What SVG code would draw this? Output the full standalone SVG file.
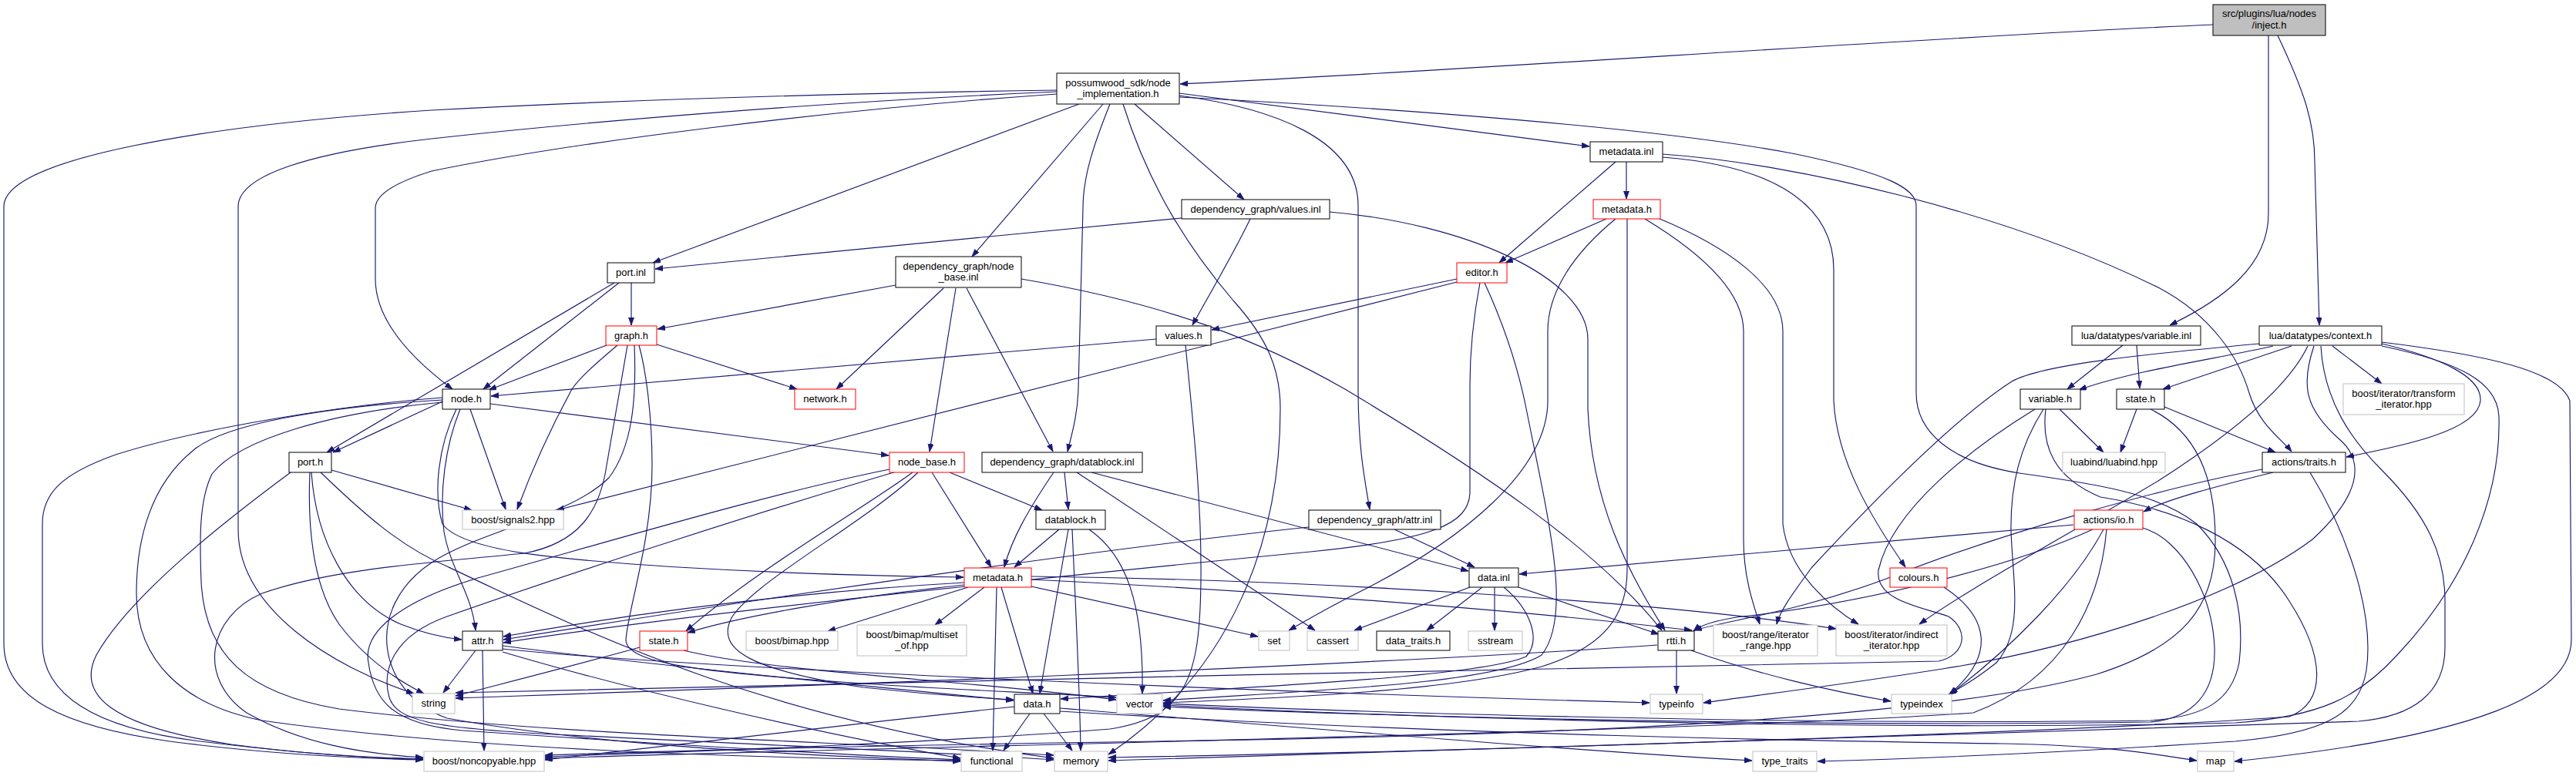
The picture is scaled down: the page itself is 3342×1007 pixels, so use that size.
<svg xmlns="http://www.w3.org/2000/svg" width="3342" height="1007" viewBox="0 0 3342 1007">
<defs>
<style>
.e{fill:none;stroke:#191970;stroke-width:1.15;marker-end:url(#ah)}
.node rect{fill:#ffffff;stroke-width:1}
.blk rect{stroke:#000000}
.red rect{stroke:#ff0000}
.gry rect{stroke:#bfbfbf}
.root rect{fill:#bfbfbf;stroke:#000000}
text{font-family:"Liberation Sans",Arial,Helvetica,sans-serif;font-size:13px;fill:#000000;text-anchor:middle}
</style>
<marker id="ah" markerWidth="11" markerHeight="8" refX="10" refY="3.5" orient="auto" markerUnits="userSpaceOnUse"><path d="M0,0 L10,3.5 L0,7 z" fill="#191970" stroke="#191970" stroke-width="0.8"/></marker>
</defs>
<rect x="0" y="0" width="3342" height="1007" fill="#ffffff"/>
<g id="edges">
<path class="e" d="M2871,32 C2500,48 1900,92 1531,109"/>
<path class="e" d="M2943,46 L2943,277 C2943,345 2885,388 2815,422"/>
<path class="e" d="M2955,46 C2990,120 3003,160 3003,210 L3009,422"/>
<path class="e" d="M1371,117 C1100,121 800,130 560,143 C270,162 5,205 5,268 L5,835 C5,905 80,942 220,962 C350,979 460,984 549,986"/>
<path class="e" d="M1371,119 C1070,132 760,158 560,180 C400,198 309,228 309,268 L309,687 C309,790 430,865 537,900"/>
<path class="e" d="M1371,122 C1070,143 740,185 560,222 C515,236 487,252 487,270 L487,362 C487,420 540,470 587,505"/>
<path class="e" d="M1400,135 L847,341"/>
<path class="e" d="M1431,135 L1261,333"/>
<path class="e" d="M1440,135 C1418,190 1405,230 1405,270 L1399,504 C1398,540 1390,565 1385,586"/>
<path class="e" d="M1457,135 C1490,240 1540,320 1600,390 C1645,440 1661,480 1661,530 C1661,700 1600,870 1438,979"/>
<path class="e" d="M1472,135 L1614,259"/>
<path class="e" d="M1530,121 L2062,190"/>
<path class="e" d="M1530,124 C1650,140 1762,180 1762,267 L1762,504 C1762,580 1770,620 1777,661"/>
<path class="e" d="M1530,126 C1800,140 2150,165 2330,200 C2450,225 2486,245 2486,267 L2486,510 C2486,560 2530,600 2620,614 C2720,628 2800,640 2850,680 C2900,730 2912,800 2905,860 C2895,910 2860,930 2790,935 C2300,942 1700,922 1509,913"/>
<path class="e" d="M2110,210 L2110,258"/>
<path class="e" d="M2096,210 L1945,341"/>
<path class="e" d="M2157,200 C2330,212 2600,275 2800,373 C2870,410 2905,465 2918,510 C2930,550 2960,570 2973,586"/>
<path class="e" d="M2157,204 C2300,215 2379,265 2379,350 L2379,520 C2383,600 2430,675 2472,736"/>
<path class="e" d="M2084,284 L1953,341"/>
<path class="e" d="M2096,284 C2040,330 2008,380 2008,430 L2008,520 C2008,610 1900,700 1760,770 C1720,790 1695,805 1672,818"/>
<path class="e" d="M2111,284 L2111,740 C2111,800 2080,840 2000,865 C1880,898 1650,906 1509,912"/>
<path class="e" d="M2134,284 C2210,330 2262,380 2262,430 L2262,700 C2262,750 2275,785 2283,810"/>
<path class="e" d="M2151,283 C2240,320 2313,370 2313,430 L2313,680 C2320,740 2370,785 2411,810"/>
<path class="e" d="M1533,283 C1300,305 1000,335 850,349"/>
<path class="e" d="M1622,284 C1600,330 1570,380 1547,422"/>
<path class="e" d="M1725,275 C1900,290 2060,360 2060,440 L2060,530 C2065,650 2110,740 2160,818"/>
<path class="e" d="M1162,370 L853,427"/>
<path class="e" d="M1224,374 L1085,505"/>
<path class="e" d="M1240,374 L1206,586"/>
<path class="e" d="M1254,374 L1366,586"/>
<path class="e" d="M1325,362 C1520,395 1640,445 1745,505 C1920,610 2070,710 2156,818"/>
<path class="e" d="M819,367 L819,422"/>
<path class="e" d="M803,367 L627,505"/>
<path class="e" d="M797,367 L424,587"/>
<path class="e" d="M787,448 L634,506"/>
<path class="e" d="M801,448 C775,470 752,490 742,505 C712,560 690,610 671,661"/>
<path class="e" d="M852,447 L1034,505"/>
<path class="e" d="M814,448 C805,500 795,560 787,604 C778,665 750,705 680,718 C560,730 430,738 340,770 C270,800 255,880 320,925 C390,965 470,978 549,983"/>
<path class="e" d="M823,448 C826,520 820,580 790,620 C740,670 620,690 560,730 C470,790 490,900 580,932 C800,972 1100,982 1246,988"/>
<path class="e" d="M829,448 C838,480 846,540 846,604 C846,700 815,790 812,830 C812,860 900,872 1120,887 C1250,896 1330,898 1448,905"/>
<path class="e" d="M574,521 L432,587"/>
<path class="e" d="M610,531 L656,661"/>
<path class="e" d="M597,531 C577,580 570,640 576,690 C585,740 612,770 617,818"/>
<path class="e" d="M636,524 L1153,591"/>
<path class="e" d="M592,531 C568,580 562,640 574,680 C600,715 720,726 880,736 C1030,745 1170,748 1250,749"/>
<path class="e" d="M574,516 C450,525 260,555 150,590 C80,615 55,640 55,680 L55,835 C55,900 120,945 260,962 C390,978 470,983 549,985"/>
<path class="e" d="M574,519 C420,528 290,550 250,585 C195,630 177,700 177,770 C177,860 240,915 340,935 C620,975 1000,984 1246,987"/>
<path class="e" d="M574,522 C430,535 310,570 275,615 C258,650 259,700 261,755 C266,850 320,900 440,920 C720,955 1100,962 1367,980"/>
<path class="e" d="M430,610 L612,662"/>
<path class="e" d="M402,613 C399,680 405,760 440,810 C470,850 510,880 550,900"/>
<path class="e" d="M404,613 C410,700 450,780 520,810 C555,824 580,828 599,830"/>
<path class="e" d="M377,613 C300,670 170,770 125,850 C100,900 140,942 300,966 C400,979 480,984 549,985"/>
<path class="e" d="M416,613 C470,665 520,710 580,735 C780,830 1000,935 1367,984"/>
<path class="e" d="M617,844 L575,899"/>
<path class="e" d="M626,844 L628,974"/>
<path class="e" d="M652,838 C820,860 1120,890 1315,909"/>
<path class="e" d="M652,842 C900,868 1700,900 2140,912"/>
<path class="e" d="M652,846 C800,890 1050,950 1246,984"/>
<path class="e" d="M830,840 C740,865 660,885 591,903"/>
<path class="e" d="M887,844 C1000,872 1250,882 1448,908"/>
<path class="e" d="M1184,613 C1120,660 980,740 890,819"/>
<path class="e" d="M1154,609 C1000,640 800,700 620,750 C520,780 470,820 478,860 C485,910 510,940 600,948 C850,965 1100,980 1246,986"/>
<path class="e" d="M1163,612 C1000,660 750,740 580,800 C510,825 495,870 505,905 C515,935 560,944 700,952 C950,965 1200,975 1367,986"/>
<path class="e" d="M1191,613 C1120,680 985,750 950,800 C925,845 980,870 1120,892 C1220,903 1280,906 1315,908"/>
<path class="e" d="M1232,613 L1352,662"/>
<path class="e" d="M1209,613 L1286,736"/>
<path class="e" d="M1367,613 C1335,660 1312,700 1303,736"/>
<path class="e" d="M1381,613 L1386,661"/>
<path class="e" d="M1416,613 L1905,741"/>
<path class="e" d="M1397,613 L1706,818"/>
<path class="e" d="M1374,687 L1316,736"/>
<path class="e" d="M1386,687 L1349,900"/>
<path class="e" d="M1391,687 C1396,800 1401,900 1402,974"/>
<path class="e" d="M1413,687 C1460,720 1484,780 1482,900"/>
<path class="e" d="M1251,756 C1000,770 800,800 653,826"/>
<path class="e" d="M1698,684 C1400,715 900,790 653,830"/>
<path class="e" d="M1920,367 C1910,420 1907,460 1907,500 L1907,640 C1905,680 1860,700 1700,716 C1400,745 900,795 653,834"/>
<path class="e" d="M1251,759 C1100,775 960,800 892,821"/>
<path class="e" d="M1256,762 L1074,819"/>
<path class="e" d="M1277,762 L1213,811"/>
<path class="e" d="M1293,762 L1288,974"/>
<path class="e" d="M1299,762 L1340,900"/>
<path class="e" d="M1338,761 L1632,826"/>
<path class="e" d="M1338,748 C1700,752 2150,780 2382,816"/>
<path class="e" d="M1338,752 C1700,770 2000,795 2195,818"/>
<path class="e" d="M1907,762 L1757,818"/>
<path class="e" d="M1923,762 L1851,818"/>
<path class="e" d="M1939,762 L1939,818"/>
<path class="e" d="M1970,762 L2152,823"/>
<path class="e" d="M1951,762 C1985,790 2000,830 1980,852 C1920,878 1650,890 1376,907"/>
<path class="e" d="M1809,687 L1913,736"/>
<path class="e" d="M2175,844 L2175,900"/>
<path class="e" d="M2150,837 C1700,868 900,895 591,906"/>
<path class="e" d="M2194,844 C2280,875 2380,898 2453,910"/>
<path class="e" d="M1500,440 L637,514"/>
<path class="e" d="M1538,448 C1548,550 1559,650 1558,750 C1557,880 1540,930 1440,946 C1200,965 900,975 707,982"/>
<path class="e" d="M1890,362 L1572,428"/>
<path class="e" d="M1890,366 L722,662"/>
<path class="e" d="M1926,367 C1955,430 1970,480 1980,530 C2010,680 2040,800 2000,850 C1940,888 1700,896 1509,909"/>
<path class="e" d="M2754,448 L2682,505"/>
<path class="e" d="M2772,448 L2776,504"/>
<path class="e" d="M2949,449 C2880,465 2770,480 2697,506"/>
<path class="e" d="M2973,449 L2806,505"/>
<path class="e" d="M2931,446 C2800,458 2650,472 2610,495 C2540,540 2440,640 2350,737 C2330,765 2310,790 2305,810"/>
<path class="e" d="M2994,449 C2970,500 2900,560 2800,624 C2690,690 2560,760 2490,810"/>
<path class="e" d="M3002,449 C2985,500 2990,530 3035,570 C3070,600 3060,645 3000,700 C2900,775 2700,840 2520,868 C2380,890 2280,902 2210,912"/>
<path class="e" d="M3011,449 C3015,520 3050,570 3090,610 C3150,670 3172,720 3172,780 L3172,840 C3172,900 3130,930 3060,936 C2500,955 1800,975 1438,987"/>
<path class="e" d="M3090,449 C3190,470 3240,495 3242,540 C3245,650 3195,760 3110,850 C3060,905 3010,930 2900,938 C2400,950 1800,930 1509,915"/>
<path class="e" d="M3026,449 L3090,498"/>
<path class="e" d="M3090,446 C3170,465 3220,490 3218,520 C3215,560 3110,580 3044,593"/>
<path class="e" d="M3090,444 C3220,460 3320,480 3334,520 L3336,830 C3336,900 3220,955 2899,988"/>
<path class="e" d="M2672,531 L2729,587"/>
<path class="e" d="M2772,531 L2751,587"/>
<path class="e" d="M2808,528 L2952,587"/>
<path class="e" d="M2790,531 C2850,560 2874,620 2874,700 C2875,790 2830,840 2720,875 C2500,935 2000,955 1500,962 C1100,968 850,975 707,980"/>
<path class="e" d="M2640,531 C2560,580 2455,660 2437,740 C2432,780 2495,788 2528,800 C2555,818 2550,850 2515,858 C2000,870 1000,885 591,899"/>
<path class="e" d="M2651,531 C2620,580 2608,630 2609,690 C2612,760 2625,820 2590,860 C2565,880 2545,892 2528,901"/>
<path class="e" d="M2654,531 C2648,580 2665,620 2725,645 C2820,660 2920,700 2970,780 C3015,850 3020,910 2970,930 C2700,950 1900,975 1438,983"/>
<path class="e" d="M2690,681 L1971,745"/>
<path class="e" d="M2715,687 C2600,740 2400,785 2260,800 C2225,805 2205,812 2197,819"/>
<path class="e" d="M2729,687 C2690,760 2610,840 2530,901"/>
<path class="e" d="M2733,687 C2725,780 2680,880 2560,925 C2200,950 1200,968 707,984"/>
<path class="e" d="M2780,685 C2830,700 2870,770 2873,840 C2875,900 2845,932 2790,937 C2300,945 1700,926 1509,917"/>
<path class="e" d="M2949,613 C2880,630 2810,648 2781,664"/>
<path class="e" d="M2935,609 C2820,630 2600,690 2450,750 C2330,795 2240,805 2198,818"/>
<path class="e" d="M2997,613 C3050,700 3080,800 3070,870 C3060,930 3010,952 2900,962 C2700,975 2500,984 2358,988"/>
<path class="e" d="M2522,762 C2580,800 2590,850 2529,901"/>
<path class="e" d="M1336,926 L1302,974"/>
<path class="e" d="M1354,926 L1391,974"/>
<path class="e" d="M1316,917 C1100,940 850,970 707,986"/>
<path class="e" d="M1375,919 C1700,945 2050,975 2273,987"/>
<path class="e" d="M1375,923 C1900,955 2400,962 2600,965 C2750,968 2800,980 2850,987"/>
</g>
<g id="n_inject" class="node root"><rect x="2871" y="6" width="146" height="40"/><text x="2944" y="22">src/plugins/lua/nodes</text><text x="2944" y="37">/inject.h</text></g>
<g id="n_ni" class="node blk"><rect x="1371" y="95" width="159" height="40"/><text x="1450.5" y="112">possumwood_sdk/node</text><text x="1450.5" y="126">_implementation.h</text></g>
<g id="n_metadata_inl" class="node blk"><rect x="2063" y="184" width="94" height="26"/><text x="2110" y="201">metadata.inl</text></g>
<g id="n_values_inl" class="node blk"><rect x="1533" y="259" width="192" height="25"/><text x="1629" y="276">dependency_graph/values.inl</text></g>
<g id="n_metadata_h_sdk" class="node red"><rect x="2067" y="259" width="87" height="25"/><text x="2110.5" y="276">metadata.h</text></g>
<g id="n_port_inl" class="node blk"><rect x="788" y="341" width="61" height="26"/><text x="818.5" y="358">port.inl</text></g>
<g id="n_node_base_inl" class="node blk"><rect x="1162" y="333" width="163" height="40"/><text x="1243.5" y="350">dependency_graph/node</text><text x="1243.5" y="364">_base.inl</text></g>
<g id="n_editor_h" class="node red"><rect x="1890" y="341" width="65" height="26"/><text x="1922.5" y="358">editor.h</text></g>
<g id="n_graph_h" class="node red"><rect x="786" y="423" width="66" height="25"/><text x="819" y="440">graph.h</text></g>
<g id="n_values_h" class="node blk"><rect x="1500" y="423" width="71" height="25"/><text x="1535.5" y="440">values.h</text></g>
<g id="n_variable_inl" class="node blk"><rect x="2688" y="423" width="167" height="25"/><text x="2771.5" y="440">lua/datatypes/variable.inl</text></g>
<g id="n_context_h" class="node blk"><rect x="2931" y="423" width="159" height="25"/><text x="3010.5" y="440">lua/datatypes/context.h</text></g>
<g id="n_node_h" class="node blk"><rect x="574" y="505" width="62" height="26"/><text x="605" y="522">node.h</text></g>
<g id="n_network_h" class="node red"><rect x="1031" y="505" width="79" height="26"/><text x="1070.5" y="522">network.h</text></g>
<g id="n_variable_h" class="node blk"><rect x="2621" y="505" width="78" height="26"/><text x="2660" y="522">variable.h</text></g>
<g id="n_state_h_lua" class="node blk"><rect x="2746" y="505" width="62" height="26"/><text x="2777" y="522">state.h</text></g>
<g id="n_port_h" class="node blk"><rect x="375" y="587" width="55" height="26"/><text x="402.5" y="604">port.h</text></g>
<g id="n_node_base_h" class="node red"><rect x="1154" y="587" width="97" height="26"/><text x="1202.5" y="604">node_base.h</text></g>
<g id="n_datablock_inl" class="node blk"><rect x="1274" y="587" width="208" height="26"/><text x="1378" y="604">dependency_graph/datablock.inl</text></g>
<g id="n_luabind" class="node gry"><rect x="2676" y="587" width="133" height="26"/><text x="2742.5" y="604">luabind/luabind.hpp</text></g>
<g id="n_traits_h" class="node blk"><rect x="2935" y="587" width="108" height="26"/><text x="2989" y="604">actions/traits.h</text></g>
<g id="n_transform" class="node gry"><rect x="3040" y="498" width="157" height="40"/><text x="3118.5" y="515">boost/iterator/transform</text><text x="3118.5" y="529">_iterator.hpp</text></g>
<g id="n_signals2" class="node gry"><rect x="600" y="662" width="131" height="25"/><text x="665.5" y="679">boost/signals2.hpp</text></g>
<g id="n_datablock_h" class="node blk"><rect x="1344" y="662" width="90" height="25"/><text x="1389" y="679">datablock.h</text></g>
<g id="n_attr_inl" class="node blk"><rect x="1698" y="662" width="171" height="25"/><text x="1783.5" y="679">dependency_graph/attr.inl</text></g>
<g id="n_io_h" class="node red"><rect x="2691" y="662" width="89" height="25"/><text x="2735.5" y="679">actions/io.h</text></g>
<g id="n_metadata_h_dg" class="node red"><rect x="1251" y="737" width="87" height="25"/><text x="1294.5" y="754">metadata.h</text></g>
<g id="n_data_inl" class="node blk"><rect x="1906" y="737" width="64" height="25"/><text x="1938" y="754">data.inl</text></g>
<g id="n_colours_h" class="node red"><rect x="2452" y="737" width="74" height="25"/><text x="2489" y="754">colours.h</text></g>
<g id="n_attr_h" class="node blk"><rect x="600" y="819" width="52" height="25"/><text x="626" y="836">attr.h</text></g>
<g id="n_state_h_dg" class="node red"><rect x="830" y="819" width="62" height="25"/><text x="861" y="836">state.h</text></g>
<g id="n_bimap" class="node gry"><rect x="968" y="819" width="119" height="25"/><text x="1027.5" y="836">boost/bimap.hpp</text></g>
<g id="n_multiset" class="node gry"><rect x="1112" y="811" width="142" height="40"/><text x="1183" y="828">boost/bimap/multiset</text><text x="1183" y="842">_of.hpp</text></g>
<g id="n_set" class="node gry"><rect x="1633" y="819" width="40" height="25"/><text x="1653" y="836">set</text></g>
<g id="n_cassert" class="node gry"><rect x="1696" y="819" width="66" height="25"/><text x="1729" y="836">cassert</text></g>
<g id="n_data_traits" class="node blk"><rect x="1786" y="819" width="95" height="25"/><text x="1833.5" y="836">data_traits.h</text></g>
<g id="n_sstream" class="node gry"><rect x="1905" y="819" width="70" height="25"/><text x="1940" y="836">sstream</text></g>
<g id="n_rtti_h" class="node blk"><rect x="2151" y="819" width="47" height="25"/><text x="2174.5" y="836">rtti.h</text></g>
<g id="n_iter_range" class="node gry"><rect x="2223" y="811" width="135" height="40"/><text x="2290.5" y="828">boost/range/iterator</text><text x="2290.5" y="842">_range.hpp</text></g>
<g id="n_indirect" class="node gry"><rect x="2382" y="811" width="144" height="40"/><text x="2454" y="828">boost/iterator/indirect</text><text x="2454" y="842">_iterator.hpp</text></g>
<g id="n_string" class="node gry"><rect x="535" y="900" width="55" height="26"/><text x="562.5" y="917">string</text></g>
<g id="n_data_h" class="node blk"><rect x="1316" y="901" width="59" height="25"/><text x="1345.5" y="918">data.h</text></g>
<g id="n_vector" class="node gry"><rect x="1449" y="901" width="59" height="25"/><text x="1478.5" y="918">vector</text></g>
<g id="n_typeinfo" class="node gry"><rect x="2141" y="901" width="68" height="25"/><text x="2175" y="918">typeinfo</text></g>
<g id="n_typeindex" class="node gry"><rect x="2454" y="901" width="78" height="25"/><text x="2493" y="918">typeindex</text></g>
<g id="n_noncopyable" class="node gry"><rect x="550" y="975" width="156" height="26"/><text x="628" y="992">boost/noncopyable.hpp</text></g>
<g id="n_functional" class="node gry"><rect x="1247" y="975" width="79" height="26"/><text x="1286.5" y="992">functional</text></g>
<g id="n_memory" class="node gry"><rect x="1368" y="975" width="69" height="26"/><text x="1402.5" y="992">memory</text></g>
<g id="n_type_traits" class="node gry"><rect x="2274" y="975" width="83" height="26"/><text x="2315.5" y="992">type_traits</text></g>
<g id="n_map" class="node gry"><rect x="2851" y="975" width="47" height="26"/><text x="2874.5" y="992">map</text></g>
</svg>
